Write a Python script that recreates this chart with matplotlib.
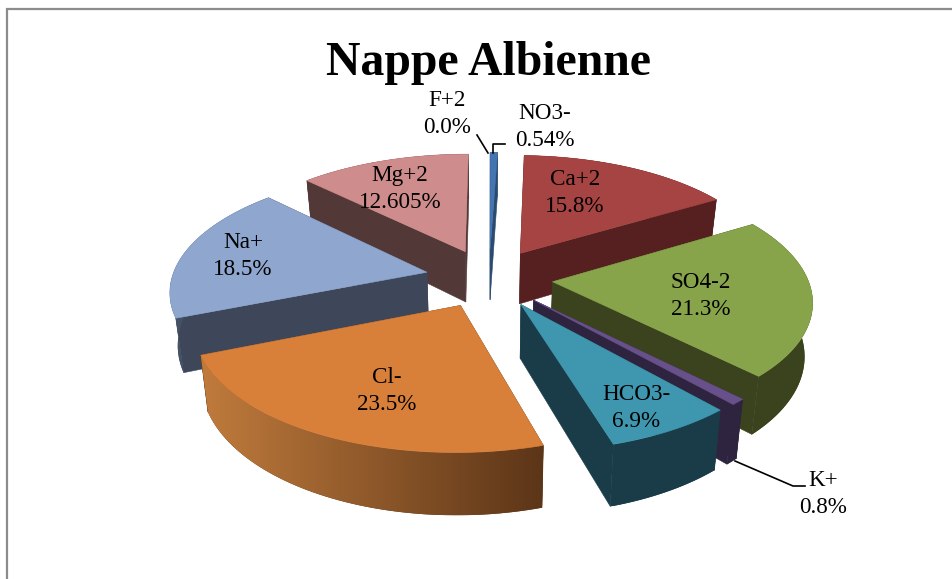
import numpy as np
import matplotlib
matplotlib.use("Agg")
import matplotlib.pyplot as plt
from matplotlib.colors import to_rgb
from matplotlib.patches import Polygon

# Chart data, clockwise from the top
names = ["Ca+2", "SO4-2", "K+", "HCO3-", "Cl-", "Na+", "Mg+2", "F+2", "NO3-"]
values = [15.8, 21.3, 0.8, 6.9, 23.5, 18.5, 12.605, 0.0, 0.54]
value_labels = ["15.8%", "21.3%", "0.8%", "6.9%", "23.5%", "18.5%", "12.605%", "0.0%", "0.54%"]

top_colors = ["#A54442", "#88A44B", "#68518A", "#3F97AF", "#D8803A", "#8FA6CF", "#CE8D8C", "#4375B0", "#4375B0"]
wall_left = ["#55201F", "#3A431D", "#2F2440", "#1A3C48", "#C07B3C", "#465268", "#533838", "#2A4A70", "#2A4A70"]
wall_right = ["#55201F", "#3A431D", "#2F2440", "#1A3C48", "#5C3518", "#3D4759", "#533838", "#2A4A70", "#2A4A70"]

# Label centres in pixels (the axes run in image pixels)
label_x = [575, 701, 823, 636, 387, 243, 400, 447, 545]
label_y = [193, 296, 494, 408, 391, 256, 189, 114, 127]

# Pie projection
cx, cy = 489, 278
rx, ry = 255, 118
persp = 0.14
explode = 0.25
thick = 52
shrink = 0.975
first_angle = 2.0
# draw from the back to the front
draw_order = [8, 6, 0, 5, 1, 2, 3, 4]


def project(u, v):
    s = 1 / (1 - persp * v)
    return cx + rx * u * s, cy + ry * v * s, s


def lower(x, y, s):
    return cx + (x - cx) * shrink, y + thick * s


fig = plt.figure(figsize=(9.52, 5.79), dpi=100)
ax = fig.add_axes([0, 0, 1, 1])
ax.axis("off")

# Frame of the pasted chart
ax.plot([7, 7, 952], [579, 9, 9], color="#8c8c8c", lw=1.6, solid_joinstyle="miter")

total = sum(values)
edges = first_angle + np.cumsum([0] + values) / total * 360

z = 3
for i in draw_order:
    t = np.radians(np.linspace(edges[i], edges[i + 1], 60))
    mid = (t[0] + t[-1]) / 2
    u0, v0 = explode * np.sin(mid), -explode * np.cos(mid)

    ax_x, ax_y, ax_s = project(u0, v0)
    xs, ys, ss = project(u0 + np.sin(t), v0 - np.cos(t))
    bx, by = lower(xs, ys, ss)
    abx, aby = lower(ax_x, ax_y, ax_s)

    # the two flat cut faces
    for k in (0, -1):
        face = [(ax_x, ax_y), (xs[k], ys[k]), (bx[k], by[k]), (abx, aby)]
        ax.add_patch(Polygon(face, fc=wall_right[i], ec=wall_right[i], lw=0.4, zorder=z))

    # the outer wall, a horizontal gradient clipped to its outline
    wall_xy = list(zip(xs, ys)) + list(zip(bx[::-1], by[::-1]))
    wall = Polygon(wall_xy, fc=wall_right[i], ec="none", zorder=z + 0.1)
    ax.add_patch(wall)
    c_left = np.array(to_rgb(wall_left[i]))
    c_right = np.array(to_rgb(wall_right[i]))
    ramp = np.linspace(0, 1, 256)[None, :, None]
    img = c_left + (c_right - c_left) * ramp
    lo = min(xs.min(), bx.min())
    hi = max(xs.max(), bx.max())
    shade = ax.imshow(img, extent=[lo, hi, by.max(), ys.min()], aspect="auto",
                      interpolation="bilinear", zorder=z + 0.2)
    shade.set_clip_path(wall)

    # top of the slice
    top = [(ax_x, ax_y)] + list(zip(xs, ys))
    ax.add_patch(Polygon(top, fc=top_colors[i], ec=top_colors[i], lw=0.4, zorder=z + 0.3))
    z += 1

ax.set_xlim(0, 952)
ax.set_ylim(579, 0)

# Leader lines
ax.plot([477, 488], [135, 153], color="black", lw=1.2, zorder=20)
ax.plot([493, 493, 505], [153, 144, 144], color="black", lw=1.2, zorder=20)
ax.plot([735, 793, 805], [461, 486, 486], color="black", lw=1.2, zorder=20)

for i in range(len(names)):
    ax.text(label_x[i], label_y[i], names[i] + "\n" + value_labels[i], ha="center", va="center",
            family="Liberation Serif", fontsize=16.7, color="black", linespacing=1.38, zorder=21)

ax.text(488, 63, "Nappe Albienne", ha="center", va="center", family="Liberation Serif",
        fontsize=34.4, fontweight="bold", color="black", zorder=21)

fig.savefig("out.png", dpi=100)
